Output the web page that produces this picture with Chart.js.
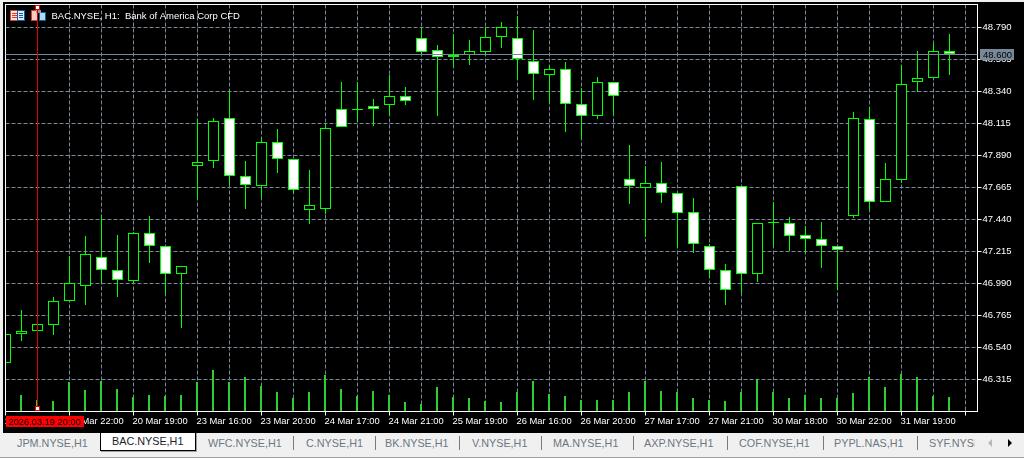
<!DOCTYPE html>
<html>
<head>
<meta charset="utf-8">
<title>BAC.NYSE, H1</title>
<script src="https://cdn.jsdelivr.net/npm/chart.js@4/dist/chart.umd.min.js"></script>
<style>
    html, body { margin: 0; padding: 0; background: #000; overflow: hidden; }
    #wrap { position: relative; width: 1024px; height: 458px; }
    canvas { display: block; position: absolute; left: 0; top: 0; }
    #tabs { position: absolute; left: 0; top: 433px; width: 1024px; height: 25px; background: #f0f0f0; font: 10.8px "Liberation Sans", sans-serif; color: #6c7783; }
    #tabs span { position: absolute; top: 3px; line-height: 15px; white-space: nowrap; }
    #tabs i { position: absolute; top: 3px; width: 1px; height: 14px; background: #7b7b7b; }
    #tabs .active { position: absolute; left: 100px; top: -1px; width: 94px; height: 17px; background: #fff; border: 1px solid #000; box-shadow: 1px 1px 0 #a0a0a0; }
    #tabs .active span { left: 11px; top: 1px; color: #1a2430; }
    #tabs .clip { overflow: hidden; width: 46px; }
    #tabs .line { position: absolute; left: 0; top: 24px; width: 1024px; height: 1px; background: #a0a0a0; }
</style>
</head>
<body>
<div id="wrap">
    <canvas id="chart" width="1024" height="458"></canvas>
    <div id="tabs"></div>
</div>
<script>
var title = 'BAC.NYSE, H1:  Bank of America Corp CFD';
var crosshairBar = 2;
var crosshairLabel = '2026.03.19 20:00';
var bidPrice = 48.600;

var barTimes = [
    '19 Mar 18:00', '19 Mar 19:00', '19 Mar 20:00', '19 Mar 21:00', '19 Mar 22:00',
    '20 Mar 16:00', '20 Mar 17:00', '20 Mar 18:00', '20 Mar 19:00', '20 Mar 20:00', '20 Mar 21:00', '20 Mar 22:00',
    '23 Mar 16:00', '23 Mar 17:00', '23 Mar 18:00', '23 Mar 19:00', '23 Mar 20:00', '23 Mar 21:00', '23 Mar 22:00',
    '24 Mar 16:00', '24 Mar 17:00', '24 Mar 18:00', '24 Mar 19:00', '24 Mar 20:00', '24 Mar 21:00',
    '25 Mar 16:00', '25 Mar 17:00', '25 Mar 18:00', '25 Mar 19:00', '25 Mar 20:00', '25 Mar 21:00', '25 Mar 22:00',
    '26 Mar 16:00', '26 Mar 17:00', '26 Mar 18:00', '26 Mar 19:00', '26 Mar 20:00', '26 Mar 21:00', '26 Mar 22:00',
    '27 Mar 16:00', '27 Mar 17:00', '27 Mar 18:00', '27 Mar 19:00', '27 Mar 20:00', '27 Mar 21:00', '27 Mar 22:00',
    '30 Mar 16:00', '30 Mar 17:00', '30 Mar 18:00', '30 Mar 19:00', '30 Mar 20:00', '30 Mar 21:00', '30 Mar 22:00',
    '31 Mar 16:00', '31 Mar 17:00', '31 Mar 18:00', '31 Mar 19:00', '31 Mar 20:00', '31 Mar 21:00', '31 Mar 22:00'
];

var opens = [
    46.431, 46.635, 46.656, 46.698, 46.867, 46.973, 47.176, 47.085, 47.008, 47.345,
    47.254, 47.057, 47.816, 47.851, 48.154, 47.746, 47.676, 47.985, 47.865, 47.507,
    47.514, 48.217, 48.217, 48.238, 48.245, 48.308, 48.716, 48.632, 48.597, 48.597,
    48.618, 48.723, 48.716, 48.554, 48.456, 48.498, 48.252, 48.168, 48.407, 47.725,
    47.662, 47.697, 47.626, 47.493, 47.254, 47.085, 47.676, 47.057, 47.422, 47.415,
    47.331, 47.303, 47.254, 47.465, 48.147, 47.563, 47.718, 48.407, 48.435, 48.625
];
var highs = [
    46.635, 46.804, 46.705, 46.895, 47.183, 47.324, 47.472, 47.331, 47.352, 47.465,
    47.254, 47.113, 48.147, 48.154, 48.343, 47.851, 48.013, 48.076, 47.865, 47.788,
    48.112, 48.407, 48.407, 48.287, 48.456, 48.372, 48.786, 48.667, 48.744, 48.702,
    48.793, 48.829, 48.871, 48.772, 48.526, 48.547, 48.365, 48.442, 48.407, 47.964,
    47.816, 47.844, 47.626, 47.591, 47.268, 47.127, 47.676, 47.415, 47.563, 47.458,
    47.394, 47.422, 47.254, 48.196, 48.231, 47.837, 48.526, 48.625, 48.674, 48.744
];
var lows = [
    46.431, 46.586, 46.656, 46.628, 46.867, 46.839, 46.994, 46.895, 46.994, 47.134,
    46.916, 46.677, 47.584, 47.802, 47.683, 47.514, 47.591, 47.767, 47.626, 47.408,
    47.479, 48.090, 48.126, 48.097, 48.168, 48.245, 48.604, 48.168, 48.512, 48.526,
    48.604, 48.646, 48.428, 48.280, 48.259, 48.055, 48.006, 48.147, 48.175, 47.549,
    47.317, 47.556, 47.240, 47.204, 47.029, 46.839, 46.923, 47.001, 47.254, 47.219,
    47.204, 47.099, 46.944, 47.451, 47.507, 47.563, 47.697, 48.336, 48.435, 48.456
];
var closes = [
    46.635, 46.656, 46.705, 46.867, 46.994, 47.197, 47.085, 47.015, 47.345, 47.254,
    47.057, 47.113, 47.844, 48.133, 47.746, 47.683, 47.985, 47.865, 47.647, 47.542,
    48.083, 48.090, 48.217, 48.217, 48.308, 48.273, 48.618, 48.583, 48.583, 48.625,
    48.723, 48.793, 48.569, 48.463, 48.498, 48.252, 48.168, 48.407, 48.308, 47.676,
    47.697, 47.626, 47.486, 47.268, 47.085, 46.944, 47.057, 47.415, 47.422, 47.324,
    47.303, 47.254, 47.226, 48.154, 47.563, 47.725, 48.393, 48.435, 48.625, 48.604
];
var volumes = [
    150, 160, 110, 100, 290, 210, 300, 220, 140, 160,
    150, 160, 290, 410, 290, 340, 250, 190, 130, 190,
    360, 220, 150, 200, 160, 90, 70, 240, 140, 130,
    100, 90, 190, 300, 170, 150, 110, 110, 110, 190,
    300, 200, 190, 130, 110, 100, 190, 320, 190, 130,
    160, 130, 130, 180, 340, 240, 370, 340, 150, 140
];
var priceTicks = [48.790, 48.565, 48.340, 48.115, 47.890, 47.665, 47.440, 47.215, 46.990, 46.765, 46.540, 46.315];

var tabNames = ['JPM.NYSE,H1', 'WFC.NYSE,H1', 'C.NYSE,H1', 'BK.NYSE,H1', 'V.NYSE,H1', 'MA.NYSE,H1', 'AXP.NYSE,H1', 'COF.NYSE,H1', 'PYPL.NAS,H1', 'SYF.NYSE,H1'];
var tabLeft = [17, 208, 306, 385, 472, 553, 644, 739, 834, 929];
var tabSeparators = [293, 375, 459, 541, 633, 727, 823, 917];

function buildTabs() {
    var html = '<div class="line"></div><div class="active"><span>BAC.NYSE,H1</span></div>';
    tabNames.forEach(function (name, i) {
        var cls = i === tabNames.length - 1 ? ' class="clip"' : '';
        html += '<span' + cls + ' style="left:' + tabLeft[i] + 'px">' + name + '</span>';
    });
    tabSeparators.forEach(function (x) {
        html += '<i style="left:' + x + 'px"></i>';
    });
    html += '<svg style="position:absolute;left:985px;top:5px" width="32" height="10">'
        + '<path d="M7 1 L3 5 L7 9 Z" fill="#b8b8b8"/><path d="M23 1 L27 5 L23 9 Z" fill="#000"/></svg>';
    document.getElementById('tabs').innerHTML = html;
}

// snap bars to whole pixels so the candles stay crisp like on the terminal
var snapBars = {
    id: 'snapBars',
    afterDatasetsUpdate: function (chart) {
        chart.data.datasets.forEach(function (ds, i) {
            chart.getDatasetMeta(i).data.forEach(function (bar) {
                bar.y = Math.round(bar.y);
                bar.base = Math.round(bar.base);
                if (ds.label === 'Body' && bar.y === bar.base) {
                    bar.base = bar.y + 1;
                }
                bar.height = bar.base - bar.y;
                if (ds.label === 'Volume') {
                    bar.x -= 0.5;
                }
            });
        });
    }
};

function drawIcons(ctx) {
    // book icon
    ctx.fillStyle = '#fbe3df';
    ctx.fillRect(10, 10, 8, 11);
    ctx.fillStyle = '#dcecf8';
    ctx.fillRect(17, 10, 8, 11);
    ctx.strokeStyle = '#e03a2e';
    ctx.strokeRect(10.5, 10.5, 7, 10);
    ctx.strokeStyle = '#0f5f9e';
    ctx.strokeRect(17.5, 10.5, 7, 10);
    ctx.fillStyle = '#e03a2e';
    ctx.fillRect(12, 13, 5, 1);
    ctx.fillRect(12, 15, 5, 1);
    ctx.fillRect(12, 17, 5, 1);
    ctx.fillStyle = '#0f5f9e';
    ctx.fillRect(19, 13, 4, 1);
    ctx.fillRect(19, 15, 4, 1);
    ctx.fillRect(19, 17, 4, 1);
    // one click icon
    ctx.fillStyle = '#fbc9c2';
    ctx.fillRect(31, 10, 6, 11);
    ctx.strokeStyle = '#e03a2e';
    ctx.strokeRect(31.5, 10.5, 6, 10);
    ctx.fillStyle = '#b4d8f2';
    ctx.fillRect(39, 12, 7, 9);
    ctx.strokeStyle = '#0f5f9e';
    ctx.strokeRect(39.5, 12.5, 6, 8);
    ctx.fillStyle = '#9a9a9a';
    ctx.fillRect(36, 10, 5, 3);
}

var overlay = {
    id: 'overlay',
    afterDraw: function (chart) {
        var ctx = chart.ctx;
        var area = chart.chartArea;
        var y = chart.scales.y;
        var x = chart.scales.x;
        var font = '9.5px "Liberation Sans", sans-serif';
        ctx.save();
        ctx.lineWidth = 1;

        // window edge
        ctx.fillStyle = '#f0f0f0';
        ctx.fillRect(0, 0, 1024, 2);
        ctx.fillRect(0, 0, 3, 433);

        // frame
        ctx.strokeStyle = '#fff';
        ctx.strokeRect(area.left, area.top, area.right - area.left, area.bottom - area.top);

        // bid line and its label
        var bidY = Math.floor(y.getPixelForValue(bidPrice)) + 0.5;
        ctx.strokeStyle = '#778899';
        ctx.beginPath();
        ctx.moveTo(area.left, bidY);
        ctx.lineTo(area.right, bidY);
        ctx.stroke();
        ctx.fillStyle = '#778899';
        ctx.fillRect(980, bidY - 5.5, 34, 11);
        ctx.fillStyle = '#000';
        ctx.font = font;
        ctx.textBaseline = 'middle';
        ctx.textAlign = 'left';
        ctx.fillText(bidPrice.toFixed(3), 983, bidY + 0.5);

        drawIcons(ctx);

        ctx.fillStyle = '#fff';
        ctx.font = font;
        ctx.fillText(title, 51.5, 16);

        // crosshair
        var cx = Math.floor(x.getPixelForValue(crosshairBar)) + 0.5;
        ctx.strokeStyle = '#e00000';
        ctx.beginPath();
        ctx.moveTo(cx, 9);
        ctx.lineTo(cx, 407);
        ctx.stroke();
        ctx.fillStyle = '#fff';
        ctx.fillRect(cx - 2, 5.5, 4, 4);
        ctx.strokeRect(cx - 2, 5.5, 4, 4);
        ctx.fillRect(cx - 2, 406.5, 4, 4);
        ctx.strokeRect(cx - 2, 406.5, 4, 4);

        ctx.fillStyle = '#ff0000';
        ctx.fillRect(6, 416, 78, 11);
        ctx.fillStyle = '#000';
        ctx.font = '9.3px "Liberation Sans", sans-serif';
        ctx.fillText(crosshairLabel, 8.5, 422);
        ctx.restore();
    }
};

var ctx = document.getElementById('chart').getContext('2d');
var xValues = opens.map(function (e, i) {
    return i;
});

var chart = new Chart(ctx, {
    type: 'bar',
    data: {
        datasets: [{
            label: 'Body',
            data: xValues.map(function (i) {
                return { x: i, y: [opens[i], closes[i]] };
            }),
            yAxisID: 'y',
            grouped: false,
            barThickness: 11,
            borderWidth: 1,
            borderSkipped: false,
            inflateAmount: 0,
            borderColor: '#00ff00',
            backgroundColor: xValues.map(function (i) {
                return closes[i] < opens[i] ? '#ffffff' : '#000000';
            })
        }, {
            label: 'Wick',
            data: xValues.map(function (i) {
                return { x: i, y: [lows[i], highs[i]] };
            }),
            yAxisID: 'y',
            grouped: false,
            barThickness: 1,
            borderWidth: 0,
            inflateAmount: 0,
            backgroundColor: '#00ff00'
        }, {
            label: 'Volume',
            data: xValues.map(function (i) {
                return { x: i, y: volumes[i] };
            }),
            yAxisID: 'yVolume',
            grouped: false,
            barThickness: 2,
            borderWidth: 0,
            inflateAmount: 0,
            backgroundColor: '#32cd32'
        }]
    },
    options: {
        responsive: false,
        animation: false,
        events: [],
        layout: { padding: { left: 5.5, top: 4.5, right: 0, bottom: 0 } },
        plugins: { legend: { display: false }, tooltip: { enabled: false } },
        scales: {
            x: {
                type: 'linear',
                offset: false,
                min: 0,
                max: 60.75,
                border: { display: false, dash: [4, 2] },
                grid: {
                    offset: false,
                    color: '#778899',
                    tickLength: 4,
                    tickColor: function (c) {
                        return c.tick.value % 4 === 0 ? '#ffffff' : 'rgba(0,0,0,0)';
                    }
                },
                ticks: {
                    stepSize: 2,
                    includeBounds: false,
                    autoSkip: false,
                    maxRotation: 0,
                    align: 'start',
                    padding: 0,
                    labelOffset: -1,
                    color: '#ffffff',
                    font: { family: '"Liberation Sans", sans-serif', size: 9.4 },
                    callback: function (value) {
                        return value % 4 === 0 && barTimes[value] ? barTimes[value] : '';
                    }
                },
                afterFit: function (scale) {
                    scale.height = 46.5;
                    scale.paddingLeft = 0;
                    scale.paddingRight = 0;
                }
            },
            y: {
                position: 'right',
                min: 46.09,
                max: 48.95172,
                border: { display: false, dash: [4, 2] },
                grid: { color: '#778899', tickLength: 4, tickColor: '#ffffff' },
                ticks: {
                    padding: 1,
                    color: '#ffffff',
                    font: { family: '"Liberation Sans", sans-serif', size: 9.5 },
                    callback: function (value) {
                        return value.toFixed(3);
                    }
                },
                afterBuildTicks: function (scale) {
                    scale.ticks = priceTicks.map(function (p) {
                        return { value: p };
                    });
                },
                afterFit: function (scale) {
                    scale.width = 46.5;
                    scale.paddingTop = 0;
                    scale.paddingBottom = 0;
                }
            },
            yVolume: {
                display: false,
                min: -5,
                max: 4065
            }
        }
    },
    plugins: [snapBars, overlay]
});

buildTabs();
</script>
</body>
</html>
